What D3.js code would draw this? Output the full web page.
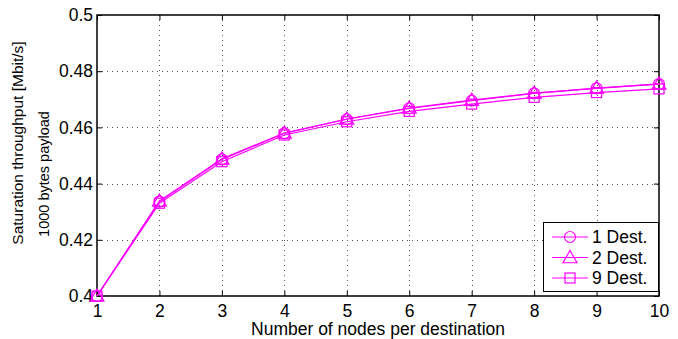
<!DOCTYPE html>
<html>
<head>
<meta charset="utf-8">
<script src="https://cdn.jsdelivr.net/npm/d3@7"></script>
<style>
  html, body { margin: 0; padding: 0; background: #fff; }
  svg { display: block; font-family: "Liberation Sans", Arial, Helvetica, sans-serif; }
</style>
</head>
<body>
<svg id="chart" width="678" height="339"></svg>
<script>
// Saturation throughput vs. nodes per destination
const nodes = [1, 2, 3, 4, 5, 6, 7, 8, 9, 10];
const dest1 = [0.4000, 0.4336, 0.4486, 0.4579, 0.4629, 0.4668, 0.4695, 0.4721, 0.4739, 0.4754];
const dest2 = [0.4000, 0.4338, 0.4488, 0.4580, 0.4630, 0.4669, 0.4697, 0.4722, 0.4740, 0.4755];
const dest9 = [0.4000, 0.4330, 0.4478, 0.4573, 0.4620, 0.4657, 0.4683, 0.4707, 0.4724, 0.4737];
const seriesNames = ["1 Dest.", "2 Dest.", "9 Dest."];
const markerKinds = ["circle", "triangle", "square"];
const xTicks = [1, 2, 3, 4, 5, 6, 7, 8, 9, 10];
const yTicks = [0.40, 0.42, 0.44, 0.46, 0.48, 0.50];
const yTickLabels = ["0.4", "0.42", "0.44", "0.46", "0.48", "0.5"];
const xLabel = "Number of nodes per destination";
const yLabel1 = "Saturation throughput [Mbit/s]";
const yLabel2 = "1000 bytes payload";

const series = [dest1, dest2, dest9].map((vals, i) => ({
  name: seriesNames[i], marker: markerKinds[i],
  points: nodes.map((n, j) => ({ x: n, y: vals[j] }))
}));

const svg = d3.select("#chart");
const plotL = 97, plotR = 659, plotT = 15, plotB = 296;
const color = "#ff00ff";
const fontSize = 17.5;

const x = d3.scaleLinear().domain([1, 10]).range([plotL, plotR]);
const y = d3.scaleLinear().domain([0.4, 0.5]).range([plotB, plotT]);

// dotted grid
const grid = svg.append("g").attr("stroke", "#555").attr("stroke-width", 1)
  .attr("stroke-dasharray", "1,4").attr("shape-rendering", "crispEdges");
grid.selectAll(".gx").data(xTicks.slice(1, -1)).join("line")
  .attr("x1", d => Math.round(x(d)) + 0.5).attr("x2", d => Math.round(x(d)) + 0.5)
  .attr("y1", plotT).attr("y2", plotB);
grid.selectAll(".gy").data(yTicks.slice(1, -1)).join("line")
  .attr("y1", d => Math.round(y(d)) + 0.5).attr("y2", d => Math.round(y(d)) + 0.5)
  .attr("x1", plotL).attr("x2", plotR);

// axes with inward ticks
const axisB = d3.axisBottom(x).tickValues(xTicks).tickSize(-5).tickPadding(8.5).tickFormat(d3.format("d"));
const axisT = d3.axisTop(x).tickValues(xTicks).tickSize(-5).tickFormat("");
const axisL = d3.axisLeft(y).tickValues(yTicks).tickSize(-5).tickPadding(4)
  .tickFormat((d, i) => yTickLabels[i]);
const axisR = d3.axisRight(y).tickValues(yTicks).tickSize(-5).tickFormat("");

function styleAxis(g) {
  g.select(".domain").remove();
  g.selectAll("line").attr("stroke", "#000").attr("stroke-width", 1);
  g.selectAll("text").attr("fill", "#000").style("font-size", fontSize + "px")
    .style("font-family", "'Liberation Sans', Arial, sans-serif");
}
svg.append("g").attr("transform", `translate(0,${plotB})`).call(axisB).call(styleAxis);
svg.append("g").attr("transform", `translate(0,${plotT})`).call(axisT).call(styleAxis);
svg.append("g").attr("transform", `translate(${plotL},0)`).call(axisL).call(styleAxis);
svg.append("g").attr("transform", `translate(${plotR},0)`).call(axisR).call(styleAxis);

// box
svg.append("rect").attr("x", plotL).attr("y", plotT)
  .attr("width", plotR - plotL).attr("height", plotB - plotT)
  .attr("fill", "none").attr("stroke", "#000").attr("stroke-width", 1.5);

// markers
function drawMarker(g, kind, cx, cy) {
  if (kind === "circle") {
    g.append("circle").attr("cx", cx).attr("cy", cy).attr("r", 5.5);
  } else if (kind === "triangle") {
    const s = 7;
    g.append("path").attr("d", `M${cx},${cy - s} L${cx + s},${cy + s * 0.75} L${cx - s},${cy + s * 0.75} Z`);
  } else {
    g.append("rect").attr("x", cx - 5).attr("y", cy - 5).attr("width", 10).attr("height", 10);
  }
}

const line = d3.line().x(d => x(d.x)).y(d => y(d.y));
series.forEach(s => {
  const g = svg.append("g").attr("fill", "none").attr("stroke", color).attr("stroke-width", 1.2);
  g.append("path").datum(s.points).attr("d", line);
  s.points.forEach(p => drawMarker(g, s.marker, x(p.x), y(p.y)));
});

// axis labels
svg.append("text").attr("x", (plotL + plotR) / 2).attr("y", 335)
  .attr("text-anchor", "middle").style("font-size", fontSize + "px")
  .attr("textLength", 254).attr("lengthAdjust", "spacingAndGlyphs").text(xLabel);
svg.append("text").attr("transform", "translate(23,143) rotate(-90)")
  .attr("text-anchor", "middle").style("font-size", "15.5px").text(yLabel1);
svg.append("text").attr("transform", "translate(49,174) rotate(-90)")
  .attr("text-anchor", "middle").style("font-size", "14.5px").text(yLabel2);

// legend
const lg = svg.append("g");
lg.append("rect").attr("x", 543.5).attr("y", 222.5).attr("width", 115).attr("height", 69)
  .attr("fill", "#fff").attr("stroke", "#000").attr("stroke-width", 1);
series.forEach((s, i) => {
  const cy = 237 + i * 20.5;
  const g = lg.append("g").attr("fill", "none").attr("stroke", color).attr("stroke-width", 1.2);
  g.append("line").attr("x1", 552).attr("x2", 588).attr("y1", cy).attr("y2", cy);
  drawMarker(g, s.marker, 570, cy);
  lg.append("text").attr("x", 592).attr("y", cy + 6).style("font-size", fontSize + "px").text(s.name);
});
</script>
</body>
</html>
